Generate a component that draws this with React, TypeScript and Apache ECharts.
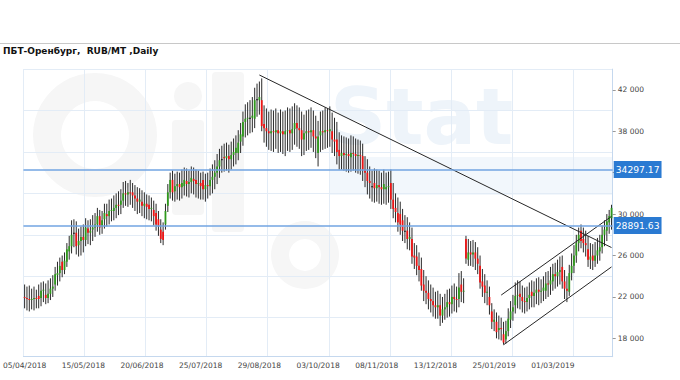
import React, { useEffect, useRef } from 'react';
import * as echarts from 'echarts';

const tickLabels = ['05/04/2018', '15/05/2018', '20/06/2018', '25/07/2018', '29/08/2018', '03/10/2018', '08/11/2018', '13/12/2018', '25/01/2019', '01/03/2019'];
const LABEL_STEP = 25;
const CANDLE_COUNT = 251;

// prices in thousands RUB/MT
const opens = [
  22.0, 21.9, 21.8, 21.7, 21.8, 21.9, 22.1, 21.9, 22.6, 22.2,
  21.9, 22.3, 22.8, 23.2, 24.1, 24.3, 25.4, 24.6, 25.4, 26.4,
  26.9, 28.2, 28.2, 27.0, 27.4, 27.8, 27.5, 28.6, 28.2, 28.5,
  28.7, 29.0, 29.8, 28.8, 29.5, 30.0, 29.8, 30.3, 30.3, 30.6,
  30.9, 30.9, 31.3, 32.0, 31.9, 32.1, 32.1, 31.8, 31.5, 31.2,
  31.2, 30.8, 31.0, 30.9, 30.5, 30.4, 30.1, 29.5, 28.5, 28.3,
  29.0, 30.8, 32.1, 33.3, 32.2, 32.7, 32.9, 32.6, 32.7, 33.2,
  32.9, 33.1, 33.4, 33.3, 32.9, 33.0, 33.3, 32.4, 32.8, 32.7,
  33.3, 33.6, 34.0, 34.6, 35.3, 35.5, 35.4, 35.6, 35.3, 35.7,
  35.9, 35.9, 37.0, 37.5, 38.9, 39.2, 39.3, 39.3, 39.2, 41.1,
  41.0, 41.0, 38.7, 38.3, 38.0, 37.8, 38.0, 37.9, 38.1, 37.8,
  38.0, 37.7, 38.0, 38.1, 37.8, 38.2, 38.8, 38.3, 38.1, 37.2,
  37.8, 38.0, 37.9, 38.1, 37.5, 35.9, 37.6, 38.0, 37.9, 38.1,
  38.0, 38.0, 37.2, 37.2, 36.2, 35.6, 35.9, 35.7, 35.8, 35.5,
  35.9, 35.8, 35.6, 35.7, 35.6, 34.3, 34.0, 33.2, 32.7, 33.0,
  32.5, 32.8, 32.6, 32.4, 32.4, 32.6, 33.0, 31.4, 30.6, 30.1,
  30.0, 29.4, 28.4, 28.4, 27.6, 27.6, 26.0, 25.9, 25.0, 24.7,
  23.2, 22.6, 22.4, 21.8, 21.6, 21.2, 21.0, 21.2, 20.2, 20.8,
  21.0, 21.5, 21.3, 22.0, 21.8, 21.8, 23.2, 22.5, 27.6, 25.6,
  26.3, 26.1, 26.3, 25.7, 25.0, 23.5, 23.1, 22.4, 22.0, 20.6,
  19.6, 19.6, 18.8, 19.0, 18.4, 17.9, 18.7, 19.8, 20.6, 21.2,
  22.1, 22.3, 22.0, 21.6, 21.5, 21.9, 22.5, 22.1, 22.4, 22.7,
  22.5, 22.6, 22.6, 23.3, 23.2, 23.5, 24.2, 24.0, 24.4, 24.9,
  23.5, 22.8, 22.5, 24.3, 25.0, 26.0, 27.2, 28.4, 27.6, 27.2,
  26.6, 25.6, 26.0, 25.5, 26.0, 26.4, 26.8, 28.0, 28.4, 29.2, 29.6,
];
const closes = [
  21.9, 21.8, 21.7, 21.8, 21.9, 21.8, 21.8, 22.6, 22.7, 21.9,
  22.3, 22.8, 23.0, 24.2, 24.3, 25.0, 24.6, 25.5, 26.6, 26.9,
  28.0, 28.2, 26.9, 27.4, 27.8, 27.5, 28.7, 28.2, 28.4, 28.7,
  29.0, 29.8, 28.7, 29.4, 30.1, 29.8, 30.3, 30.4, 30.6, 30.9,
  30.8, 31.3, 32.0, 31.9, 32.1, 32.0, 31.8, 31.5, 31.2, 31.4,
  30.8, 31.0, 30.7, 30.5, 30.6, 29.8, 29.0, 28.9, 27.6, 27.5,
  30.3, 32.1, 33.3, 32.1, 32.7, 32.9, 32.6, 33.0, 33.3, 32.9,
  33.1, 33.5, 33.2, 32.9, 33.0, 32.7, 32.4, 32.8, 32.7, 33.3,
  33.6, 34.0, 34.6, 35.2, 35.3, 35.4, 35.6, 35.3, 35.7, 36.0,
  36.4, 36.9, 37.7, 38.9, 39.2, 39.3, 39.3, 39.5, 41.0, 41.1,
  41.3, 38.5, 38.3, 38.0, 37.8, 38.0, 37.9, 38.1, 37.8, 38.0,
  37.7, 38.0, 38.1, 37.8, 38.2, 38.8, 38.3, 38.1, 37.2, 37.8,
  38.0, 37.9, 38.1, 37.5, 37.3, 37.5, 38.0, 37.9, 38.1, 38.0,
  38.2, 37.2, 37.0, 36.0, 35.6, 35.9, 35.7, 35.8, 35.6, 35.9,
  35.8, 35.6, 35.7, 35.6, 34.3, 34.0, 33.2, 33.0, 32.7, 32.5,
  32.8, 32.6, 32.4, 32.9, 32.6, 32.7, 31.4, 30.5, 30.2, 29.2,
  29.0, 28.4, 28.4, 27.6, 27.8, 25.9, 25.8, 25.0, 24.6, 23.1,
  22.6, 22.4, 21.8, 21.6, 21.2, 21.0, 21.2, 20.2, 20.8, 21.0,
  21.5, 21.3, 22.0, 21.8, 21.7, 22.9, 22.5, 22.6, 25.7, 26.3,
  26.1, 26.3, 25.7, 25.2, 23.4, 23.0, 22.4, 22.5, 21.2, 19.6,
  19.8, 18.6, 19.0, 18.9, 17.6, 18.7, 19.9, 20.6, 21.0, 22.1,
  22.2, 22.0, 21.6, 21.5, 21.9, 22.2, 22.1, 22.4, 22.7, 22.5,
  22.6, 22.9, 23.3, 23.2, 23.6, 24.2, 24.0, 24.4, 24.6, 23.5,
  22.8, 22.6, 24.3, 25.0, 26.0, 27.2, 28.0, 27.4, 27.2, 27.0,
  25.6, 25.9, 25.5, 26.0, 26.5, 26.8, 28.0, 28.5, 29.3, 29.8, 30.6,
];
const lows = [
  20.9, 20.7, 20.6, 20.8, 20.7, 20.9, 20.9, 21.1, 21.5, 21.3,
  21.4, 21.7, 22.0, 22.6, 23.1, 23.5, 23.9, 24.2, 24.9, 25.6,
  26.2, 26.8, 26.1, 25.9, 26.0, 26.3, 26.9, 27.1, 27.0, 27.4,
  27.8, 28.3, 28.0, 28.1, 28.6, 28.8, 29.0, 29.3, 29.4, 29.6,
  29.9, 30.0, 30.6, 30.8, 30.7, 30.9, 30.6, 30.3, 30.0, 30.1,
  29.8, 29.6, 29.5, 29.4, 29.3, 28.9, 28.4, 27.9, 27.2, 27.0,
  28.5, 30.2, 31.5, 31.3, 31.2, 31.4, 31.3, 31.5, 31.8, 31.7,
  31.6, 32.0, 31.9, 31.6, 31.5, 31.4, 31.4, 31.2, 31.5, 31.8,
  32.0, 32.4, 32.9, 33.5, 34.0, 34.1, 34.2, 34.0, 34.3, 34.6,
  34.8, 35.2, 35.9, 36.6, 37.4, 37.6, 37.8, 37.9, 38.3, 39.4,
  39.6, 38.0, 36.9, 36.5, 36.2, 36.1, 36.0, 36.3, 35.9, 36.0,
  35.8, 35.6, 36.1, 36.0, 36.2, 36.7, 36.5, 36.3, 35.6, 35.7,
  36.1, 36.2, 36.4, 36.0, 35.4, 34.6, 36.0, 36.2, 36.3, 36.4,
  36.5, 35.9, 35.6, 34.8, 34.3, 34.3, 34.2, 34.1, 34.0, 34.1,
  34.2, 34.0, 33.9, 33.8, 33.2, 32.6, 31.9, 31.5, 31.2, 31.1,
  31.2, 31.0, 30.9, 31.0, 30.9, 31.1, 30.5, 29.6, 29.2, 28.3,
  28.0, 27.4, 27.2, 26.6, 26.5, 25.2, 24.7, 24.1, 23.5, 22.6,
  21.6, 21.3, 20.8, 20.5, 20.1, 19.9, 19.9, 19.2, 19.5, 19.8,
  20.0, 20.1, 20.4, 20.6, 20.5, 21.0, 21.5, 21.4, 25.2, 25.0,
  25.0, 24.9, 24.6, 24.2, 22.8, 22.0, 21.4, 21.2, 20.3, 18.9,
  18.7, 18.0, 17.9, 17.8, 17.4, 17.5, 18.2, 19.0, 19.7, 20.4,
  20.9, 20.8, 20.5, 20.4, 20.6, 20.8, 21.0, 21.0, 21.3, 21.2,
  21.4, 21.6, 21.8, 22.0, 22.2, 22.6, 22.8, 23.0, 23.2, 22.8,
  21.8, 21.5, 22.1, 23.6, 24.3, 25.3, 26.4, 26.7, 26.3, 25.9,
  24.9, 24.7, 24.6, 24.9, 25.2, 25.5, 26.2, 26.9, 27.4, 28.1, 28.5,
];
const highs = [
  23.2, 23.0, 23.1, 22.8, 23.0, 22.7, 23.2, 23.4, 23.5, 23.3,
  23.6, 23.8, 24.1, 24.9, 25.4, 25.8, 26.0, 26.3, 27.2, 27.9,
  29.4, 29.5, 29.3, 28.6, 28.8, 29.0, 29.6, 29.4, 29.5, 29.9,
  30.1, 30.6, 30.4, 30.3, 31.0, 31.0, 31.4, 31.5, 31.8, 32.0,
  32.2, 32.4, 33.1, 33.2, 33.0, 33.3, 33.0, 32.8, 32.6, 32.5,
  32.3, 32.1, 31.9, 31.8, 31.6, 31.3, 31.0, 30.3, 29.5, 29.2,
  31.0, 32.9, 34.0, 34.2, 33.9, 34.1, 34.0, 34.3, 34.5, 34.4,
  34.2, 34.6, 34.5, 34.3, 34.2, 34.0, 34.1, 33.9, 34.0, 34.4,
  34.8, 35.2, 35.8, 36.3, 36.6, 36.8, 36.9, 36.7, 37.0, 37.3,
  37.6, 38.1, 38.8, 39.9, 40.6, 40.8, 41.0, 41.3, 42.2, 42.6,
  42.8, 43.1, 40.5, 40.2, 39.9, 40.1, 40.0, 40.2, 39.8, 40.1,
  39.9, 40.0, 40.3, 40.2, 40.4, 40.7, 40.5, 40.3, 39.9, 39.6,
  40.0, 40.1, 40.3, 40.0, 39.5, 39.0, 39.9, 40.0, 40.3, 40.2,
  40.4, 39.8, 39.3, 38.9, 37.9, 37.6, 37.5, 37.4, 37.3, 37.6,
  37.5, 37.3, 37.2, 37.1, 36.8, 35.6, 35.3, 34.6, 34.2, 34.4,
  34.3, 34.2, 34.0, 34.3, 34.0, 34.1, 34.3, 33.0, 32.0, 31.6,
  31.2, 30.5, 29.9, 29.7, 29.2, 28.7, 27.2, 27.0, 26.3, 25.8,
  24.6, 24.0, 23.6, 23.2, 22.9, 22.5, 22.6, 22.3, 22.0, 22.3,
  22.7, 22.8, 23.1, 23.3, 23.0, 24.3, 24.5, 23.8, 27.9, 27.6,
  27.4, 27.5, 27.3, 26.8, 26.0, 24.7, 24.2, 23.6, 23.0, 21.4,
  20.8, 20.5, 20.2, 20.0, 19.6, 19.7, 20.9, 21.6, 22.2, 23.4,
  23.6, 23.5, 23.1, 22.9, 23.0, 23.4, 23.6, 23.5, 23.8, 23.9,
  23.7, 24.0, 24.4, 24.5, 24.9, 25.2, 25.3, 25.6, 25.9, 26.0,
  24.6, 24.0, 25.1, 26.2, 27.0, 28.0, 28.7, 29.0, 28.7, 28.4,
  27.9, 27.2, 27.1, 27.3, 27.7, 28.0, 28.9, 29.4, 30.0, 30.4, 30.9,
];

const levels = [34297.17, 28891.63];
// [startIndex, startValue], [endIndex, endValue]
const trendLines = [
  [[100, 43430], [250, 26770]],
  [[203, 22180], [250, 29780]],
  [[204, 17380], [250, 24900]],
];
// 34 000 lies under the 34297.17 price box and is not visible in the chart
const yLabelValues = [18000, 22000, 26000, 30000, 38000, 42000];
const yTickValues = [18000, 22000, 26000, 30000, 34000, 38000, 42000];
const yGridValues = [20000, 24000, 28000, 32000, 36000, 40000, 44000];

const Y_MIN = 16230;
const Y_MAX = 44000;
const GREEN = '#2f9a1c';
const RED = '#f01414';
const WM_GRAY = '#f6f6f6';
const LEVEL_BLUE = '#72a5e2';

export default function App() {
  const ref = useRef<HTMLDivElement>(null);

  useEffect(() => {
    const chart = echarts.init(ref.current!, null, { renderer: 'svg' });

    const categories = Array.from({ length: CANDLE_COUNT }, (_, i) =>
      i % LABEL_STEP === 0 && tickLabels[i / LABEL_STEP] ? tickLabels[i / LABEL_STEP] : `#${i}`
    );
    const candleData = opens.map((o, i) => [i, o * 1000, closes[i] * 1000, lows[i] * 1000, highs[i] * 1000]);

    const option: any = {
      animation: false,
      backgroundColor: '#ffffff',
      graphic: {
        elements: [
          // watermark (approximate)
          { type: 'ring', z: -1, silent: true, shape: { cx: 95, cy: 135, r: 62, r0: 34 }, style: { fill: WM_GRAY } },
          { type: 'rect', z: -1, silent: true, shape: { x: 172, y: 120, width: 32, height: 95, r: 4 }, style: { fill: WM_GRAY } },
          { type: 'circle', z: -1, silent: true, shape: { cx: 188, cy: 96, r: 14 }, style: { fill: WM_GRAY } },
          { type: 'rect', z: -1, silent: true, shape: { x: 212, y: 72, width: 32, height: 160, r: 4 }, style: { fill: WM_GRAY } },
          { type: 'text', z: -1, silent: true, style: { x: 330, y: 78, text: 'Stat', font: 'bold 78px "DejaVu Sans"', fill: '#eef4fa' } },
          { type: 'rect', z: -1, silent: true, shape: { x: 330, y: 157, width: 282, height: 38 }, style: { fill: '#f2f7fc' } },
          { type: 'ring', z: -1, silent: true, shape: { cx: 305, cy: 255, r: 34, r0: 16 }, style: { fill: WM_GRAY } },
          // header
          { type: 'line', shape: { x1: 0, y1: 43.5, x2: 680, y2: 43.5 }, style: { stroke: '#c8c8c8', lineWidth: 1 } },
          {
            type: 'text',
            style: {
              x: 3, y: 50.5, text: 'ПБТ-Оренбург,  RUB/MT ,Daily',
              font: 'bold 9px "DejaVu Sans"', fill: '#111', textVerticalAlign: 'middle',
            },
          },
        ],
      },
      grid: { left: 21.7, right: 67.3, top: 69.1, bottom: 23.3, containLabel: false },
      xAxis: [
        {
          type: 'category',
          data: categories,
          boundaryGap: true,
          axisLine: { onZero: false, lineStyle: { color: '#c5d8ee' } },
          axisTick: { show: false },
          splitLine: { show: false },
          axisLabel: {
            interval: (i: number) => i % LABEL_STEP === 0 && i / LABEL_STEP < tickLabels.length,
            color: '#444',
            fontSize: 7.5,
            fontFamily: 'DejaVu Sans',
            margin: 5,
          },
        },
        {
          type: 'value',
          position: 'top',
          min: 0,
          max: 9.648,
          interval: 1,
          axisLine: { show: false, onZero: false },
          axisTick: { show: false },
          axisLabel: { show: false },
          splitLine: { show: true, lineStyle: { color: '#e3ecf6', width: 1 } },
        },
      ],
      yAxis: [
        {
          type: 'value',
          position: 'right',
          min: Y_MIN,
          max: Y_MAX,
          axisLine: { show: true, onZero: false, lineStyle: { color: '#c5d8ee' } },
          axisTick: { show: true, length: 3, lineStyle: { color: '#999' }, customValues: yTickValues },
          splitLine: { show: false },
          axisLabel: {
            customValues: yLabelValues,
            color: '#444',
            fontSize: 7.5,
            fontFamily: 'DejaVu Sans',
            margin: 5,
            formatter: (v: number) => `${Math.round(v / 1000)} 000`,
          },
        },
        {
          type: 'value',
          position: 'left',
          min: Y_MIN,
          max: Y_MAX,
          axisLine: { show: false, onZero: false },
          axisTick: { show: false, customValues: yGridValues },
          axisLabel: { show: false },
          splitLine: { show: true, lineStyle: { color: '#e3ecf6', width: 1 } },
        },
      ],
      series: [
        {
          type: 'custom',
          xAxisIndex: 0,
          yAxisIndex: 0,
          data: candleData,
          encode: { x: 0, y: [1, 2, 3, 4] },
          renderItem: (params: any, api: any) => {
            const idx = api.value(0);
            const o = api.value(1);
            const c = api.value(2);
            const l = api.value(3);
            const h = api.value(4);
            const pO = api.coord([idx, o]);
            const pC = api.coord([idx, c]);
            const pL = api.coord([idx, l]);
            const pH = api.coord([idx, h]);
            const x = pO[0];
            const bw = 1.8;
            const top = Math.min(pO[1], pC[1]);
            const hgt = Math.max(1, Math.abs(pO[1] - pC[1]));
            const fill = c > o ? GREEN : c < o ? RED : '#111';
            return {
              type: 'group',
              children: [
                { type: 'line', shape: { x1: x, y1: pH[1], x2: x, y2: pL[1] }, style: { stroke: '#2a2a2a', lineWidth: 1 } },
                { type: 'rect', shape: { x: x - bw / 2, y: top, width: bw, height: hgt }, style: { fill } },
              ],
            };
          },
          markLine: {
            silent: true,
            symbol: ['none', 'none'],
            animation: false,
            label: { show: false },
            lineStyle: { color: '#262626', width: 1, type: 'solid' },
            data: trendLines.map((seg) => [{ coord: seg[0] }, { coord: seg[1] }]),
          },
        },
        {
          type: 'line',
          name: 'levels',
          xAxisIndex: 0,
          yAxisIndex: 0,
          data: [],
          color: LEVEL_BLUE,
          markLine: {
            silent: true,
            symbol: ['none', 'none'],
            animation: false,
            lineStyle: { color: LEVEL_BLUE, width: 1.5, type: 'solid', opacity: 1 },
            label: {
              show: true,
              position: 'end',
              distance: 1,
              color: '#ffffff',
              backgroundColor: '#2a7ad2',
              padding: [3, 2, 3, 2],
              fontSize: 9.2,
              lineHeight: 11,
              fontFamily: 'DejaVu Sans',
              formatter: (p: any) => Number(p.value).toFixed(2),
            },
            data: levels.map((v) => ({ yAxis: v })),
          },
        },
      ],
    };

    chart.setOption(option);
    return () => chart.dispose();
  }, []);

  return (
    <div
      ref={ref}
      style={{ position: 'fixed', left: 0, top: 0, width: 680, height: 380, background: '#fff' }}
    />
  );
}
